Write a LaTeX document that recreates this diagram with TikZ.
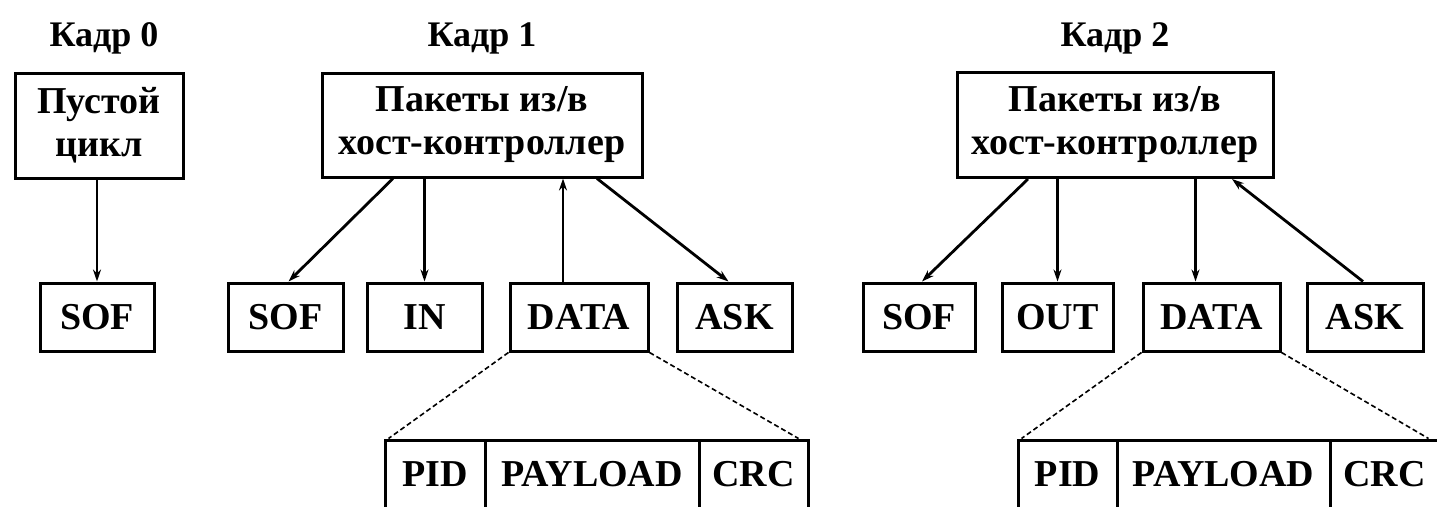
\documentclass[tikz,border=0pt]{standalone}
\usepackage{fontspec}
\setmainfont{Liberation Serif}
\usetikzlibrary{arrows.meta}

\begin{document}
\begin{tikzpicture}[x=1pt,y=-1pt,
  box/.style={draw, line width=3pt, inner sep=0pt, minimum height=68pt,
              font=\fontsize{38}{44}\selectfont\bfseries},
  bigbox/.style={draw, line width=3pt, inner sep=0pt, align=center,
                 font=\fontsize{38}{43}\selectfont\bfseries},
  title/.style={font=\fontsize{36}{42}\selectfont\bfseries, anchor=base},
  link/.style={line width=2.8pt},
  arr/.style={link, -{Stealth[length=12pt,width=8pt]}},
  zoomline/.style={line width=1.6pt, dash pattern=on 5pt off 3pt}
]
\useasboundingbox (0,0) rectangle (1437,506);
\fill[white] (0,0) rectangle (1437,506);
\clip (0,0) rectangle (1437,506);

% frame titles
\node[title] (t0) at (104,46) {Кадр 0};
\node[title] (t1) at (482,46) {Кадр 1};
\node[title] (t2) at (1115,46) {Кадр 2};

% upper boxes
\node[bigbox, minimum width=168pt, minimum height=105pt] (h0) at (99,125.5) {Пустой\\цикл};
\node[bigbox, minimum width=320pt, minimum height=104pt] (h1) at (482,125) {Пакеты из/в\\хост-контроллер};
\node[bigbox, minimum width=316pt, minimum height=105pt] (h2) at (1115,125) {Пакеты из/в\\хост-контроллер};

% packets
\node[box, minimum width=114pt] (sof0) at (97,317) {SOF};

\node[box, minimum width=115pt] (sof1)  at (285.5,317) {SOF};
\node[box, minimum width=115pt] (in1)   at (424.5,317) {IN};
\node[box, minimum width=138pt] (data1) at (579,317)   {DATA};
\node[box, minimum width=115pt] (ask1)  at (734.5,317) {ASK};

\node[box, minimum width=112pt] (sof2)  at (919,317)    {SOF};
\node[box, minimum width=111pt] (out2)  at (1057.5,317) {OUT};
\node[box, minimum width=137pt] (data2) at (1211.5,317) {DATA};
\node[box, minimum width=116pt] (ask2)  at (1365,317)   {ASK};

% DATA packet fields
\node[box, minimum width=100pt] (pid1) at (435,474)   {PID};
\node[box, minimum width=214pt] (pay1) at (592,474)   {PAYLOAD};
\node[box, minimum width=109pt] (crc1) at (753.5,474) {CRC};

\node[box, minimum width=99pt]  (pid2) at (1067.5,474) {PID};
\node[box, minimum width=213pt] (pay2) at (1223.5,474) {PAYLOAD};
\node[box, minimum width=109pt] (crc2) at (1384.5,474) {CRC};

% frame 0
\draw[arr] (sof0.north |- h0.south) -- (sof0.north);

% frame 1
\coordinate (d1) at ([xshift=-16pt]data1.north);
\draw[arr] ([xshift=-89pt]h1.south) -- ([xshift=3pt]sof1.north);
\draw[arr] (in1.north |- h1.south) -- (in1.north);
\draw[arr] (d1) -- (d1 |- h1.south);
\draw[arr] ([xshift=115pt]h1.south) -- ([xshift=-6pt]ask1.north);

% frame 2
\coordinate (d2) at ([xshift=-16pt]data2.north);
\draw[arr] ([xshift=-87pt]h2.south) -- ([xshift=3pt]sof2.north);
\draw[arr] (out2.north |- h2.south) -- (out2.north);
\draw[arr] (d2 |- h2.south) -- (d2);
\draw[arr] ([xshift=-2pt]ask2.north) -- ([xshift=117pt]h2.south);

% expansion of the DATA packets
\draw[zoomline] (data1.south west) -- ([xshift=5pt]pid1.north west);
\draw[zoomline] (data1.south east) -- ([xshift=-11pt]crc1.north east);
\draw[zoomline] (data2.south west) -- ([xshift=5pt]pid2.north west);
\draw[zoomline] (data2.south east) -- ([xshift=-12pt]crc2.north east);
\end{tikzpicture}
\end{document}
